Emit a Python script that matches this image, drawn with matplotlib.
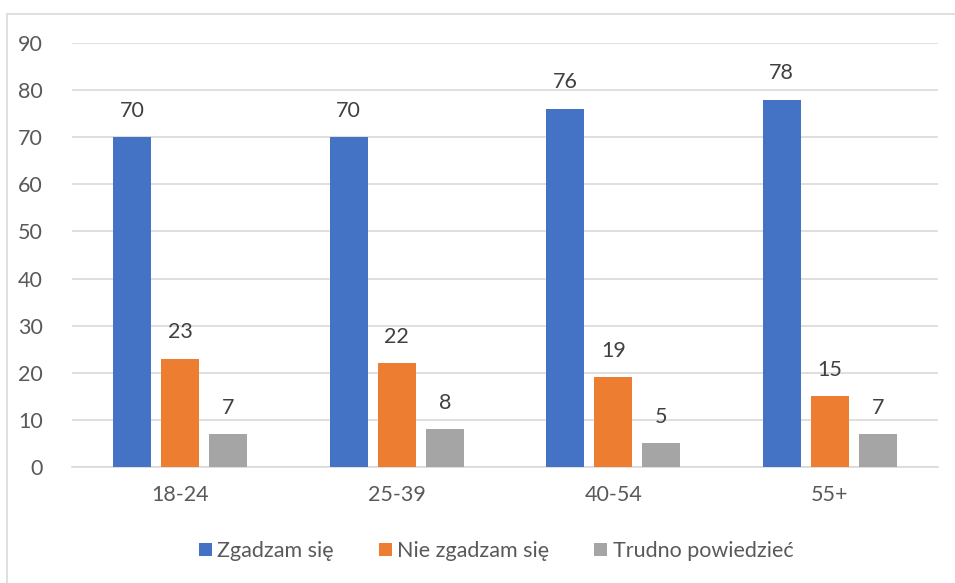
import matplotlib.pyplot as plt
import numpy as np
from matplotlib.patches import Rectangle

categories = ["18-24", "25-39", "40-54", "55+"]
series_names = ["Zgadzam się", "Nie zgadzam się", "Trudno powiedzieć"]
zgadzam = [70, 70, 76, 78]
nie_zgadzam = [23, 22, 19, 15]
trudno = [7, 8, 5, 7]
yticks = [0, 10, 20, 30, 40, 50, 60, 70, 80, 90]

colors = ["#4472c4", "#ed7d31", "#a5a5a5"]
text_color = "#595959"
fs = 15.5

plt.rcParams["font.family"] = ["Lato", "DejaVu Sans"]

fig = plt.figure(figsize=(9.55, 5.83), dpi=100)
ax = fig.add_axes([72 / 955, 1 - 467 / 583, 866 / 955, 424 / 583])

# chart frame (cut off at right and bottom like the source)
fig.patches.append(
    Rectangle((7 / 955, -0.1), 1.2, 1 - 14 / 583 + 0.1, transform=fig.transFigure,
              fill=False, edgecolor="#d9d9d9", linewidth=1.2)
)

x = np.arange(len(categories))
width = 0.175
offsets = [-0.222, 0.0, 0.222]
for vals, off, col, name in zip([zgadzam, nie_zgadzam, trudno], offsets, colors, series_names):
    bars = ax.bar(x + off, vals, width, color=col, label=name, zorder=3)
    for b, v in zip(bars, vals):
        ax.text(b.get_x() + b.get_width() / 2, v + 3.5, str(v), ha="center", va="bottom",
                fontsize=fs, color="#404040")

ax.set_xlim(-0.5, len(categories) - 0.5)
ax.set_ylim(0, 90)
ax.set_yticks(yticks)
ax.set_xticks(x)
ax.set_xticklabels(categories)
ax.tick_params(axis="both", length=0, labelsize=fs, labelcolor=text_color)
ax.tick_params(axis="y", pad=21)
ax.tick_params(axis="x", pad=13)
ax.grid(axis="y", color="#d9d9d9", linewidth=1.2, zorder=0)
for s in ["top", "right", "left"]:
    ax.spines[s].set_visible(False)
ax.spines["bottom"].set_color("#d9d9d9")
ax.spines["bottom"].set_linewidth(1.2)

leg = fig.legend(loc="center", bbox_to_anchor=(496 / 955, 1 - 551 / 583), ncol=3,
                 frameon=False, fontsize=fs, handlelength=0.6, handleheight=0.6,
                 handletextpad=0.25, columnspacing=2.1)
for t in leg.get_texts():
    t.set_color(text_color)

fig.savefig("out.png", dpi=100)
